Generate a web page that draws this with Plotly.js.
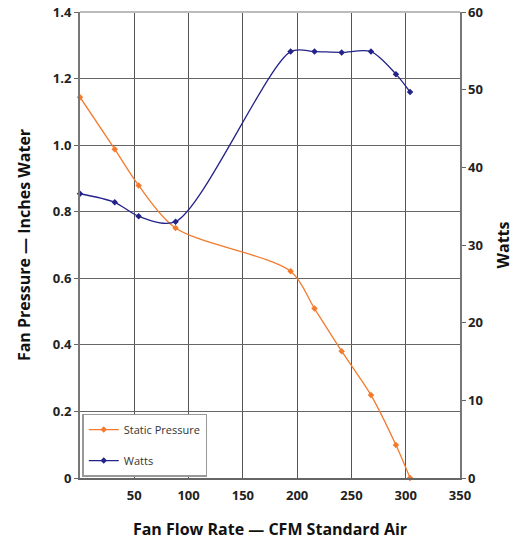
<!DOCTYPE html>
<html>
<head>
<meta charset="utf-8">
<script src="https://cdn.plot.ly/plotly-3.0.1.min.js"></script>
<style>html,body{margin:0;padding:0;background:#fff;}#chart{width:525px;height:540px;}</style>
</head>
<body>
<div id="chart"></div>
<script>
var flowRate = [0, 32, 54, 88, 194, 216, 241, 268, 291, 304];
var staticPressure = [1.144, 0.988, 0.879, 0.751, 0.621, 0.509, 0.381, 0.249, 0.099, 0];
var watts = [36.6, 35.5, 33.7, 33.0, 54.9, 54.9, 54.8, 54.9, 52.0, 49.7];
var xTickVals = [50, 100, 150, 200, 250, 300, 350];
var yTickVals = [0, 0.2, 0.4, 0.6, 0.8, 1.0, 1.2, 1.4];
var yTickText = ['0', '0.2', '0.4', '0.6', '0.8', '1.0', '1.2', '1.4'];
var y2TickVals = [0, 10, 20, 30, 40, 50, 60];

var orange = '#F47B2E';
var navy = '#23238A';

var traces = [
  {
    x: flowRate, y: staticPressure, name: 'Static Pressure', type: 'scatter', mode: 'lines+markers',
    line: {color: orange, width: 1.3, shape: 'spline', smoothing: 0.85},
    marker: {symbol: 'diamond', size: 5, color: orange},
    legendgroup: 'a', cliponaxis: false
  },
  {
    x: flowRate, y: watts, name: 'Watts', type: 'scatter', mode: 'lines+markers', yaxis: 'y2',
    line: {color: navy, width: 1.3, shape: 'spline', smoothing: 0.85},
    marker: {symbol: 'diamond', size: 5, color: navy},
    legendgroup: 'b', cliponaxis: false
  }
];

var tickFont = {family: 'Open Sans, sans-serif', size: 13, color: '#222', weight: 'bold'};
var titleFont = {family: 'Open Sans, sans-serif', size: 16, color: '#111', weight: 'bold'};

var layout = {
  width: 525, height: 540,
  margin: {l: 80, r: 65, t: 12, b: 62},
  paper_bgcolor: '#fff', plot_bgcolor: '#fff',
  showlegend: true,
  legend: {
    x: 0.006, y: 0.003, xanchor: 'left', yanchor: 'bottom',
    bgcolor: '#fff', bordercolor: '#999', borderwidth: 1.5,
    font: {family: 'Open Sans, sans-serif', size: 11, color: '#333'},
    traceorder: 'grouped', tracegroupgap: 12, itemwidth: 30
  },
  xaxis: {
    range: [0, 350], tickvals: xTickVals, ticks: '', showgrid: true, gridcolor: '#555', gridwidth: 1,
    showline: true, linecolor: '#666', linewidth: 1.5, zeroline: false,
    tickfont: tickFont, ticklen: 0, ticklabelstandoff: 5,
    title: {text: 'Fan Flow Rate — CFM Standard Air', font: titleFont, standoff: 22}
  },
  yaxis: {
    range: [0, 1.4], tickvals: yTickVals, ticktext: yTickText, ticks: 'outside', ticklen: 4, tickcolor: '#666',
    showgrid: true, gridcolor: '#666', gridwidth: 1, showline: true, linecolor: '#777', linewidth: 2,
    zeroline: false, tickfont: tickFont,
    title: {text: 'Fan Pressure — Inches Water', font: titleFont, standoff: 18}
  },
  yaxis2: {
    range: [0, 60], tickvals: y2TickVals, overlaying: 'y', side: 'right', ticks: 'outside', ticklen: 4,
    tickcolor: '#666', showgrid: false, showline: true, linecolor: '#777', linewidth: 1.5, zeroline: false,
    tickfont: tickFont,
    title: {text: 'Watts', font: titleFont, standoff: 16}
  },
  shapes: [
    {type: 'line', xref: 'paper', yref: 'paper', x0: 0, x1: 1, y0: 1, y1: 1, line: {color: '#bbb', width: 2}}
  ]
};

Plotly.newPlot('chart', traces, layout, {displayModeBar: false, staticPlot: true});
</script>
</body>
</html>
